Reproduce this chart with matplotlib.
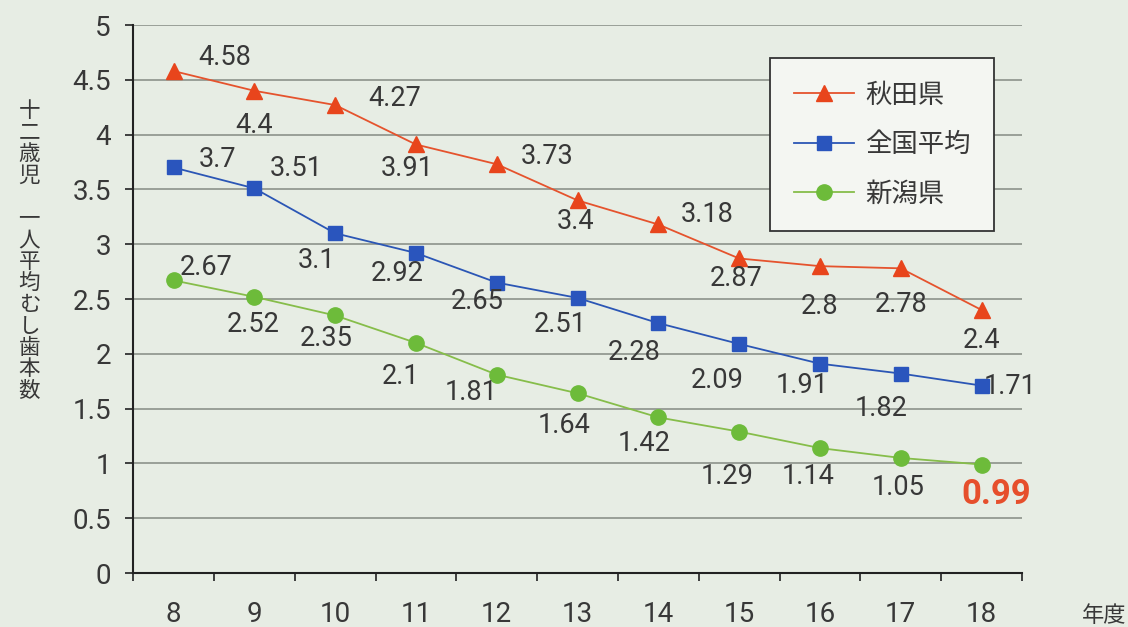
import matplotlib.pyplot as plt
import numpy as np

plt.rcParams['font.family'] = ['Roboto', 'Noto Sans CJK JP', 'DejaVu Sans']

years = ['8', '9', '10', '11', '12', '13', '14', '15', '16', '17', '18']
akita = [4.58, 4.4, 4.27, 3.91, 3.73, 3.4, 3.18, 2.87, 2.8, 2.78, 2.4]
zenkoku = [3.7, 3.51, 3.1, 2.92, 2.65, 2.51, 2.28, 2.09, 1.91, 1.82, 1.71]
niigata = [2.67, 2.52, 2.35, 2.1, 1.81, 1.64, 1.42, 1.29, 1.14, 1.05, 0.99]

# label offsets in pixels (dx right, dy up)
akita_off = [(51, 14), (0, -35), (60, 7), (-9, -24), (50, 8), (-2, -21),
             (49, 10), (-3, -20), (0, -40), (0, -36), (0, -31)]
zenkoku_off = [(44, 8), (42, 20), (-19, -27), (-19, -21), (-20, -19), (-17, -27),
               (-24, -29), (-22, -37), (-18, -22), (-20, -35), (28, -1)]
niigata_off = [(33, 13), (-1, -28), (-9, -23), (-15, -34), (-26, -18), (-13, -32),
               (-14, -26), (-12, -45), (-12, -28), (-3, -30), (15, -30)]

bg = '#e7ede4'
txt = '#383838'
fig = plt.figure(figsize=(11.28, 6.27), dpi=100, facecolor=bg)
ax = fig.add_axes([0.118, 0.0861, 0.788, 0.874], facecolor=bg)

x = np.arange(len(years))
red, blue, green = '#e5532d', '#2b56b5', '#6dbb3a'
ax.plot(x, akita, color=red, lw=1.3, marker='^', ms=11, mfc='#e8451c', mec='#e8451c',
        label='秋田県', zorder=3)
ax.plot(x, zenkoku, color=blue, lw=1.3, marker='s', ms=10, mfc='#2a55bd', mec='#2a55bd',
        label='全国平均', zorder=3)
ax.plot(x, niigata, color='#86bd4a', lw=1.3, marker='o', ms=11, mfc=green, mec=green,
        label='新潟県', zorder=3)

def put_labels(vals, offs):
    for i, (v, (dx, dy)) in enumerate(zip(vals, offs)):
        ax.annotate(f'{v:g}', (i, v), xytext=(dx * 0.72, dy * 0.72),
                    textcoords='offset points', ha='center', va='center',
                    fontsize=19.5, color=txt, zorder=4)

put_labels(akita, akita_off)
put_labels(zenkoku, zenkoku_off)
put_labels(niigata[:-1], niigata_off[:-1])
ax.annotate(f'{niigata[-1]:g}', (len(years) - 1, niigata[-1]),
            xytext=(niigata_off[-1][0] * 0.72, niigata_off[-1][1] * 0.72),
            textcoords='offset points', ha='center', va='center',
            fontsize=25, fontweight='bold', color='#e64f2c', zorder=4)

ax.set_xlim(-0.5, len(years) - 0.5)
ax.set_ylim(0, 5)
yt = np.arange(0, 5.01, 0.5)
ax.set_yticks(yt)
ax.set_yticklabels([f'{t:g}' for t in yt])
ax.set_xticks(x)
ax.set_xticklabels(years)
ax.set_xticks(np.arange(-0.5, len(years), 1), minor=True)
ax.tick_params(axis='x', which='major', length=0, pad=20, labelsize=20, labelcolor=txt)
ax.tick_params(axis='x', which='minor', length=6, width=1.2, direction='out', color='#222222')
ax.tick_params(axis='y', length=6, width=1.2, direction='out', pad=10, labelsize=20,
               labelcolor=txt, color='#222222')
ax.yaxis.grid(True, color='#858a83', lw=1.1)
ax.set_axisbelow(True)
for s in ['top', 'right']:
    ax.spines[s].set_visible(False)
for s in ['left', 'bottom']:
    ax.spines[s].set_color('#222222')
    ax.spines[s].set_linewidth(1.5)

leg = ax.legend(loc='upper left', bbox_to_anchor=(0.7165, 0.94), borderaxespad=0,
                handlelength=2.3, labelspacing=0.85, borderpad=0.9, handletextpad=0.4,
                fancybox=False, framealpha=1, edgecolor='#333333',
                prop={'family': ['Noto Sans CJK JP'], 'size': 19})
leg.get_frame().set_facecolor('#f4f6f2')
leg.get_frame().set_linewidth(1.3)
for t in leg.get_texts():
    t.set_color(txt)

ylabel = '十二歳児　一人平均むし歯本数'
fig.text(0.026, 0.6, '\n'.join(ylabel), ha='center', va='center', fontsize=15.5,
         family=['Noto Sans CJK JP'], linespacing=0.97, color=txt)
fig.text(0.979, 0.018, '年度', ha='center', va='center', fontsize=16,
         family=['Noto Sans CJK JP'], color=txt)

fig.savefig('out.png', dpi=100, facecolor=bg)
